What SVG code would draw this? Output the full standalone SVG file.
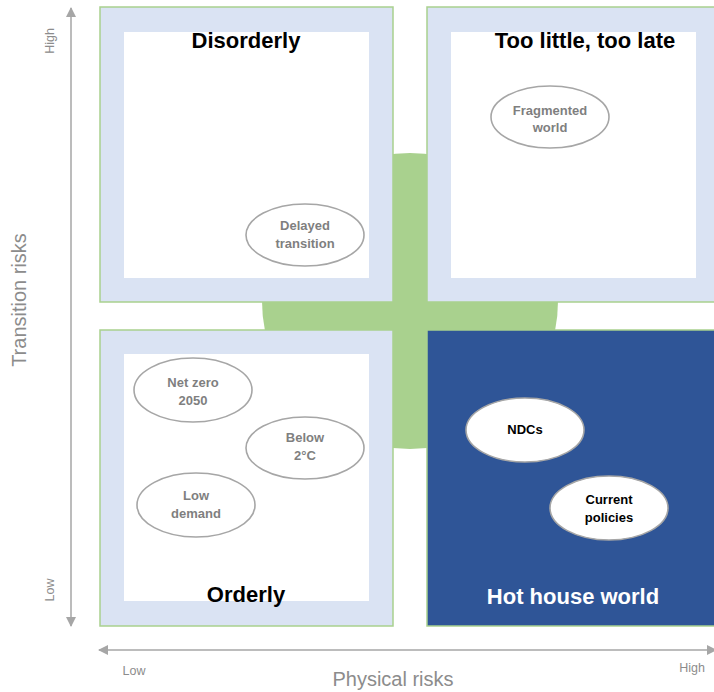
<svg xmlns="http://www.w3.org/2000/svg" width="714" height="692" viewBox="0 0 714 692">
  <style>
    .frame { fill: #dae3f3; stroke: #a9d18e; stroke-width: 1.5; }
    .inner { fill: #ffffff; }
    .title { font-family: "Liberation Sans", Arial, sans-serif; font-weight: bold; font-size: 22px; text-anchor: middle; }
    .oval { fill: #ffffff; stroke: #a6a6a6; stroke-width: 1.6; }
    .oval-label { font-family: "Liberation Sans", Arial, sans-serif; font-weight: bold; font-size: 13px; text-anchor: middle; fill: #7f7f7f; }
    .oval-label.dark { fill: #000000; }
    .axis { stroke: #a6a6a6; stroke-width: 1.5; fill: none; }
    .axis-title { font-family: "Liberation Sans", Arial, sans-serif; font-size: 20px; fill: #8c8c8c; text-anchor: middle; }
    .axis-tick { font-family: "Liberation Sans", Arial, sans-serif; font-size: 12.5px; fill: #8c8c8c; text-anchor: middle; }
  </style>
  <defs>
    <marker id="tip" viewBox="0 0 10 10" refX="9" refY="5" markerWidth="10" markerHeight="10" markerUnits="userSpaceOnUse" orient="auto-start-reverse">
      <path d="M0,0 L10,5 L0,10 Z" fill="#a6a6a6"/>
    </marker>
  </defs>

  <rect width="714" height="692" fill="#ffffff"/>

  <!-- green disc behind the four quadrants -->
  <circle id="centre-disc" cx="410" cy="301" r="148" fill="#a9d18e"/>

  <!-- quadrants -->
  <g id="disorderly">
    <rect class="frame" x="100" y="7" width="293" height="295"/>
    <rect class="inner" x="124" y="32" width="245" height="246"/>
    <text class="title" x="246" y="48">Disorderly</text>
  </g>
  <g id="too-little-too-late">
    <rect class="frame" x="427" y="7" width="300" height="295"/>
    <rect class="inner" x="451" y="32" width="245" height="246"/>
    <text class="title" x="585" y="48">Too little, too late</text>
  </g>
  <g id="orderly">
    <rect class="frame" x="100" y="330" width="293" height="296"/>
    <rect class="inner" x="124" y="354" width="245" height="247"/>
    <text class="title" x="246" y="602">Orderly</text>
  </g>
  <g id="hot-house-world">
    <rect x="427" y="330" width="300" height="296" fill="#2f5597" stroke="#a9d18e" stroke-width="1.5"/>
    <text class="title" x="573" y="604" fill="#ffffff">Hot house world</text>
  </g>

  <!-- scenarios -->
  <g id="delayed-transition">
    <ellipse class="oval" cx="305" cy="235" rx="59" ry="31"/>
    <text class="oval-label" x="305" y="230">Delayed</text>
    <text class="oval-label" x="305" y="248">transition</text>
  </g>
  <g id="fragmented-world">
    <ellipse class="oval" cx="550" cy="117" rx="59" ry="31"/>
    <text class="oval-label" x="550" y="115">Fragmented</text>
    <text class="oval-label" x="550" y="132">world</text>
  </g>
  <g id="net-zero-2050">
    <ellipse class="oval" cx="193" cy="390" rx="59" ry="32"/>
    <text class="oval-label" x="193" y="387">Net zero</text>
    <text class="oval-label" x="193" y="405">2050</text>
  </g>
  <g id="below-2c">
    <ellipse class="oval" cx="305" cy="448" rx="59" ry="31"/>
    <text class="oval-label" x="305" y="442">Below</text>
    <text class="oval-label" x="305" y="460">2°C</text>
  </g>
  <g id="low-demand">
    <ellipse class="oval" cx="196" cy="505" rx="59" ry="32"/>
    <text class="oval-label" x="196" y="500">Low</text>
    <text class="oval-label" x="196" y="518">demand</text>
  </g>
  <g id="ndcs">
    <ellipse class="oval" cx="525" cy="430" rx="59" ry="32"/>
    <text class="oval-label dark" x="525" y="434">NDCs</text>
  </g>
  <g id="current-policies">
    <ellipse class="oval" cx="609" cy="508" rx="59" ry="32"/>
    <text class="oval-label dark" x="609" y="504">Current</text>
    <text class="oval-label dark" x="609" y="522">policies</text>
  </g>

  <!-- axes -->
  <g id="connectors">
    <line class="axis" x1="71" y1="8" x2="71" y2="626" marker-start="url(#tip)" marker-end="url(#tip)"/>
    <line class="axis" x1="99" y1="650" x2="716" y2="650" marker-start="url(#tip)" marker-end="url(#tip)"/>
  </g>

  <g id="axis-labels">
    <text class="axis-title" transform="translate(26,300) rotate(-90)">Transition risks</text>
    <text class="axis-tick" transform="translate(54,41) rotate(-90)">High</text>
    <text class="axis-tick" transform="translate(54,590) rotate(-90)">Low</text>
    <text class="axis-title" x="393" y="686">Physical risks</text>
    <text class="axis-tick" x="134" y="675">Low</text>
    <text class="axis-tick" x="692" y="672">High</text>
  </g>
</svg>
